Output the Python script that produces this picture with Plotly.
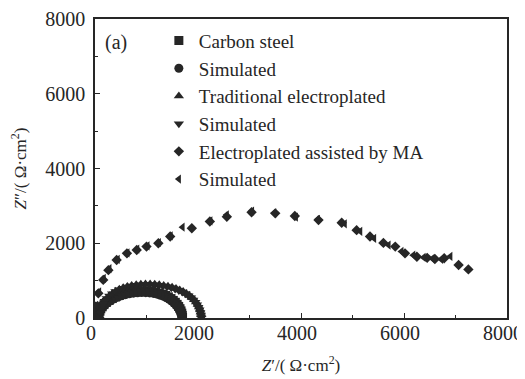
import plotly.graph_objects as go

# Carbon steel (measured) and its fit
cs_x = [1700, 1695, 1685, 1670, 1650, 1625, 1595, 1560, 1520, 1475, 1425, 1370, 1310, 1245, 1175, 1100, 1020, 940, 860, 780, 700, 620, 545, 470, 400, 335, 275, 220, 175, 140, 110, 90, 75, 65, 58]
cs_y = [15, 70, 130, 190, 250, 310, 365, 420, 470, 520, 565, 605, 640, 670, 695, 712, 722, 725, 722, 712, 695, 672, 642, 606, 565, 520, 470, 415, 358, 300, 240, 180, 125, 75, 30]
cs_sim_x = [1690, 1682, 1670, 1652, 1630, 1602, 1570, 1532, 1490, 1442, 1390, 1333, 1272, 1207, 1137, 1063, 985, 905, 825, 745, 665, 588, 513, 442, 376, 315, 258, 208, 166, 132, 105, 86, 72, 62]
cs_sim_y = [10, 65, 122, 180, 238, 295, 350, 402, 452, 498, 540, 578, 610, 637, 657, 671, 678, 680, 676, 665, 648, 625, 596, 561, 521, 476, 428, 376, 322, 268, 214, 160, 108, 60]

# Traditional electroplated and its fit
tr_x = [2070, 2065, 2055, 2040, 2020, 1995, 1962, 1924, 1880, 1830, 1774, 1712, 1645, 1573, 1497, 1417, 1334, 1248, 1160, 1070, 980, 890, 800, 712, 628, 548, 472, 402, 338, 280, 230, 188, 153, 126, 106, 93, 85]
tr_y = [15, 85, 155, 225, 295, 362, 428, 490, 550, 606, 658, 706, 750, 788, 822, 850, 872, 890, 902, 908, 908, 902, 890, 870, 843, 808, 766, 716, 658, 594, 524, 450, 372, 292, 212, 135, 60]
tr_sim_x = [2060, 2054, 2043, 2027, 2006, 1980, 1947, 1908, 1864, 1813, 1757, 1695, 1628, 1556, 1480, 1400, 1317, 1231, 1143, 1054, 965, 876, 788, 702, 619, 540, 466, 397, 334, 278, 229, 188, 154, 128, 108, 95]
tr_sim_y = [10, 80, 150, 220, 288, 355, 420, 482, 541, 597, 648, 695, 738, 776, 809, 836, 858, 875, 887, 893, 893, 887, 875, 856, 830, 796, 755, 706, 650, 588, 520, 448, 374, 298, 222, 148]

# Electroplated assisted by MA and its fit
ma_x = [7250, 7060, 6780, 6600, 6450, 6250, 6020, 5830, 5600, 5340, 5080, 4790, 4340, 3880, 3500, 3040, 2560, 2230, 1880, 1460, 1230, 1000, 810, 620, 420, 260, 160, 65, 10]
ma_y = [1300, 1420, 1600, 1580, 1610, 1640, 1730, 1910, 2010, 2180, 2350, 2550, 2620, 2730, 2800, 2830, 2710, 2580, 2400, 2180, 2000, 1910, 1820, 1730, 1550, 1280, 1020, 660, 300]
ma_sim_x = [6900, 6720, 6550, 6380, 6180, 5950, 5700, 5420, 5150, 4850, 4330, 3900, 3480, 3050, 2560, 2240, 1700, 1470, 1240, 1020, 820, 630, 440, 280, 170, 80, 20]
ma_sim_y = [1650, 1570, 1590, 1620, 1680, 1780, 1950, 2130, 2320, 2520, 2640, 2700, 2810, 2860, 2760, 2600, 2430, 2200, 2020, 1930, 1840, 1740, 1570, 1320, 1060, 700, 340]

names = ["Carbon steel", "Simulated", "Traditional electroplated", "Simulated",
         "Electroplated assisted by MA", "Simulated"]
symbols = ["square", "circle", "triangle-up", "triangle-down", "diamond", "triangle-left"]
sizes = [9, 9, 9, 9, 8, 8]
series = [(cs_x, cs_y), (cs_sim_x, cs_sim_y), (tr_x, tr_y), (tr_sim_x, tr_sim_y),
          (ma_x, ma_y), (ma_sim_x, ma_sim_y)]

serif = "Liberation Serif, Times New Roman, serif"
ink = "#262626"

fig = go.Figure()
for (x, y), n, s, sz in zip(series, names, symbols, sizes):
    fig.add_trace(go.Scatter(x=x, y=y, mode="markers", name=n,
                             marker=dict(symbol=s, size=sz, color=ink)))

axis_common = dict(
    range=[0, 8000], tickvals=[0, 2000, 4000, 6000, 8000], automargin=False,
    ticks="inside", ticklen=5, tickcolor=ink, showline=True, linecolor=ink,
    linewidth=1.5, mirror=True, showgrid=False, zeroline=False,
    tickfont=dict(family=serif, size=20, color=ink), ticklabeloverflow="allow",
    minor=dict(dtick=1000, ticks="inside", ticklen=3, tickcolor=ink),
)

# page body has an 8px margin, so the figure is sized/offset to compensate
fig.update_layout(
    width=517, height=371,
    margin=dict(l=87, r=18, t=11, b=61),
    paper_bgcolor="white", plot_bgcolor="white",
    font=dict(family=serif, color=ink),
    xaxis=dict(**axis_common, ticklabelstandoff=-4, ticklabelshift=-4,
               title=dict(text="<i>Z</i>′/( Ω·cm<sup>2</sup>)",
                          font=dict(family=serif, size=17, color=ink), standoff=16)),
    yaxis=dict(**axis_common, ticklabelstandoff=4,
               title=dict(text="<i>Z</i>″/( Ω·cm<sup>2</sup>)",
                          font=dict(family=serif, size=17, color=ink), standoff=15)),
    legend=dict(x=0.155, y=0.991, xanchor="left", yanchor="top", bgcolor="rgba(0,0,0,0)",
                font=dict(family=serif, size=19, color=ink), itemwidth=30, tracegroupgap=0),
    showlegend=True,
    annotations=[dict(text="(a)", x=0.02, y=0.923, xref="paper", yref="paper",
                      xanchor="left", yanchor="middle", showarrow=False,
                      font=dict(family=serif, size=20, color=ink))],
)

fig.write_html("out.html")
